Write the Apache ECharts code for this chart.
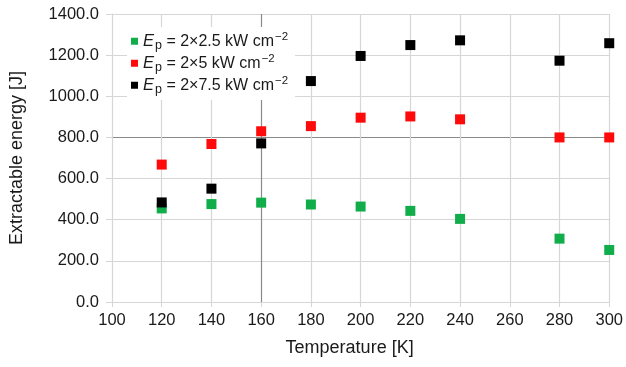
<!DOCTYPE html>
<html>
<head>
<meta charset="utf-8">
<script src="https://cdn.jsdelivr.net/npm/echarts@6/dist/echarts.min.js"></script>
<style>
  html, body { margin: 0; padding: 0; background: #fff; }
  #chart { width: 626px; height: 367px; }
</style>
</head>
<body>
<div id="chart"></div>
<script>
// Temperatures [K] and extractable energy [J] for three pump intensities
var temperatures = [120, 140, 160, 180, 200, 220, 240, 280, 300];
var energyLow  = [455, 476, 483, 474, 464, 443, 404, 308, 253];   // 2×2.5 kW cm^-2
var energyMid  = [668, 768, 830, 855, 896, 902, 888, 800, 800];   // 2×5 kW cm^-2
var energyHigh = [484, 551, 771, 1074, 1196, 1249, 1272, 1173, 1258]; // 2×7.5 kW cm^-2

var seriesNames = ['2\u00d72.5', '2\u00d75', '2\u00d77.5'];
var seriesColors = ['#12ad4b', '#ff0a0a', '#000000'];

var xTicks = { min: 100, max: 300, step: 20 };
var yTicks = { min: 0, max: 1400, step: 200 };

function pairs(vals) {
  return temperatures.map(function (t, i) { return [t, vals[i]]; });
}

var fontFamily = '"Liberation Sans", Arial, Helvetica, sans-serif';
var gridColor = '#d6d6d6';
var crossColor = '#8a8a8a';
var textColor = '#1a1a1a';

// Split line colours: the 160 K and 800 J lines are drawn darker
function splitColors(ticks, darkAt) {
  var out = [];
  for (var v = ticks.min; v <= ticks.max; v += ticks.step) {
    out.push(v === darkAt ? crossColor : gridColor);
  }
  return out;
}

var chart = echarts.init(document.getElementById('chart'), null, { renderer: 'canvas' });

var allValues = [energyLow, energyMid, energyHigh];

var series = allValues.map(function (vals, i) {
  return {
    name: seriesNames[i],
    type: 'scatter',
    symbol: 'rect',
    symbolSize: 10,
    itemStyle: { color: seriesColors[i], opacity: 1 },
    emphasis: { disabled: true },
    data: pairs(vals),
    z: 3
  };
});

chart.setOption({
  animation: false,
  backgroundColor: '#ffffff',
  textStyle: { fontFamily: fontFamily },
  grid: { left: 110, right: 16, top: 14, bottom: 65, containLabel: false },
  legend: {
    data: seriesNames,
    orient: 'vertical',
    left: 127,
    top: 27,
    padding: [3, 7, 4, 4],
    backgroundColor: '#ffffff',
    itemGap: 0,
    itemWidth: 7,
    itemHeight: 7,
    icon: 'rect',
    formatter: function (name) {
      return '{e|E}{sub|p}{n| = ' + name + ' kW cm}{sup|\u22122}';
    },
    textStyle: {
      color: textColor,
      fontFamily: fontFamily,
      fontSize: 16,
      lineHeight: 21.5,
      rich: {
        e: { fontSize: 16.5, fontStyle: 'italic', color: textColor, fontFamily: fontFamily, lineHeight: 21.5 },
        sub: { fontSize: 12.5, color: textColor, fontFamily: fontFamily, verticalAlign: 'bottom', lineHeight: 13, padding: [9, 0, 0, 1] },
        n: { fontSize: 16, color: textColor, fontFamily: fontFamily, lineHeight: 21.5 },
        sup: { fontSize: 11.5, color: textColor, fontFamily: fontFamily, verticalAlign: 'top', lineHeight: 11, padding: [0, 0, 9, 1] }
      }
    }
  },
  xAxis: {
    type: 'value',
    min: xTicks.min,
    max: xTicks.max,
    interval: xTicks.step,
    name: 'Temperature [K]',
    nameLocation: 'middle',
    nameGap: 37,
    nameTextStyle: { color: textColor, fontSize: 18, fontFamily: fontFamily, padding: [0, 22, 0, 0] },
    axisLine: { show: true, lineStyle: { color: gridColor, width: 1 } },
    axisTick: { show: true, length: 5, lineStyle: { color: gridColor } },
    axisLabel: { color: textColor, fontSize: 16.5, margin: 10, fontFamily: fontFamily },
    splitLine: { show: true, lineStyle: { color: splitColors(xTicks, 160), width: 1.2 } }
  },
  yAxis: {
    type: 'value',
    min: yTicks.min,
    max: yTicks.max,
    interval: yTicks.step,
    name: 'Extractable energy [J]',
    nameLocation: 'middle',
    nameGap: 86,
    nameTextStyle: { color: textColor, fontSize: 18, fontFamily: fontFamily },
    axisLine: { show: true, lineStyle: { color: gridColor, width: 1 } },
    axisTick: { show: true, length: 6, lineStyle: { color: gridColor } },
    axisLabel: {
      color: textColor, fontSize: 16.5, margin: 13, fontFamily: fontFamily,
      formatter: function (v) { return v.toFixed(1); }
    },
    splitLine: { show: true, lineStyle: { color: splitColors(yTicks, 800), width: 1.2 } }
  },
  series: series
});
</script>
</body>
</html>
